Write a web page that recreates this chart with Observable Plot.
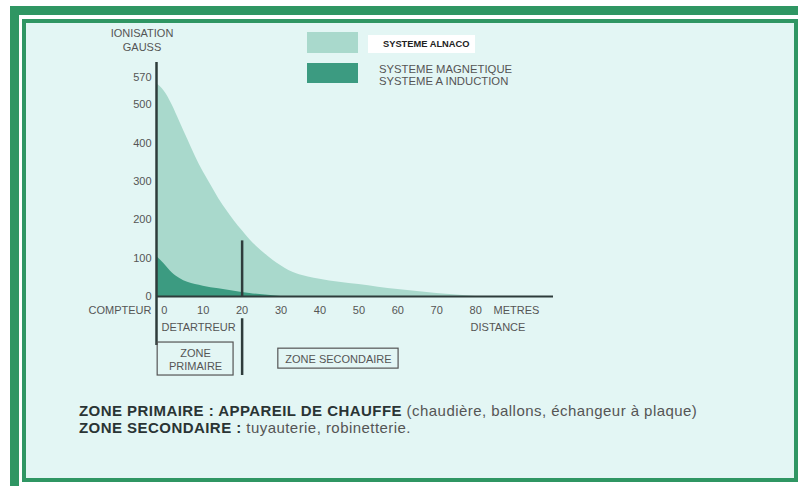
<!DOCTYPE html>
<html>
<head>
<meta charset="utf-8">
<script src="https://cdn.jsdelivr.net/npm/d3@7"></script>
<script src="https://cdn.jsdelivr.net/npm/@observablehq/plot@0.6"></script>
<style>
  html, body { margin: 0; padding: 0; background: #ffffff; }
  #wrap { position: relative; width: 798px; height: 486px; overflow: hidden; font-family: "Liberation Sans", Arial, sans-serif; }
  .band { position: absolute; background: #2f9663; }
  #inner { position: absolute; left: 22px; top: 19px; width: 776px; height: 463px; box-sizing: border-box; border: 4px solid #2f9663; background: #e3f6f4; }
  #chart { position: absolute; left: 0; top: 0; }
  .abs { position: absolute; white-space: nowrap; }
  .sw { position: absolute; }
</style>
</head>
<body>
<div id="wrap">
  <div class="band" style="left:10px;top:6px;width:788px;height:9px"></div>
  <div class="band" style="left:10px;top:6px;width:9px;height:480px"></div>
  <div id="inner"></div>
  <div id="chart"></div>
  <div class="abs" id="ytitle" style="left:100px;top:26px;width:84px;text-align:center;font-size:11px;line-height:14px;color:#555">IONISATION<br>GAUSS</div>
  <div id="legend"></div>
  <div class="abs" id="caption" style="left:79px;top:402px;font-size:15px;letter-spacing:0.45px;line-height:17.3px;color:#555"></div>
</div>
<script>
// ---- data ----
const distanceAlnaco = [-2, 0, 2, 4, 6, 8, 10, 12, 14, 16, 18, 20, 22, 24, 26, 28, 30, 32, 34, 37, 40, 45, 50, 55, 60, 65, 70, 75, 80];
const gaussAlnaco    = [555, 535, 500, 455, 410, 365, 325, 290, 255, 225, 197, 172, 148, 128, 110, 94, 80, 68, 59, 51, 45, 37, 31, 24, 18, 13, 8, 4, 0];
const distanceMagnetic = [-2, 0, 2, 4, 6, 8, 10, 14, 18, 22, 26, 30];
const gaussMagnetic    = [105, 85, 62, 47, 37, 31, 27, 20, 14, 8, 4, 0];
const xTicks = [0, 10, 20, 30, 40, 50, 60, 70, 80];
const yTicks = [0, 100, 200, 300, 400, 500, 570];
const seriesNames = ["SYSTEME ALNACO", "SYSTEME MAGNETIQUE\nSYSTEME A INDUCTION"];
const seriesColors = ["#a9d9cc", "#3c9b81"];
const zoneLimit = 20;
const zoneLabels = ["ZONE\nPRIMAIRE", "ZONE SECONDAIRE"];
const captionBold = ["ZONE PRIMAIRE : APPAREIL DE CHAUFFE", "ZONE SECONDAIRE :"];
const captionText = ["(chaudière, ballons, échangeur à plaque)", "tuyauterie, robinetterie."];

// ---- scale configuration ----
const xMin = -2, xMax = 100, yMin = 0, yMax = 610;
const axisBottom = -128;      // vertical axis continues below 0 (y units)
const axisColor = "#2e3c3b";
const textColor = "#555";

const alnaco = distanceAlnaco.map((d, i) => ({x: d, y: gaussAlnaco[i]}));
const magnetic = distanceMagnetic.map((d, i) => ({x: d, y: gaussMagnetic[i]}));
const zoneBoxes = [
  {label: zoneLabels[0], x1: -1.7, x2: 17.8, y1: -120, y2: -206},
  {label: zoneLabels[1], x1: 29.3, x2: 60.2, y1: -136, y2: -188}
];
const leftLabels = [{text: "COMPTEUR", x: xMin, y: -36}];
const rightLabels = [
  {text: "METRES", x: 84.6, y: -36},
  {text: "DETARTREUR", x: -0.7, y: -81},
  {text: "DISTANCE", x: 78.7, y: -81}
];

const plot = Plot.plot({
  width: 798,
  height: 486,
  marginLeft: 156,
  marginRight: 245,
  marginTop: 62,
  marginBottom: 190,
  style: {background: "transparent", overflow: "visible", fontFamily: "Liberation Sans, Arial, sans-serif"},
  x: {domain: [xMin, xMax], axis: null},
  y: {domain: [yMin, yMax], axis: null},
  marks: [
    Plot.areaY(alnaco, {x: "x", y: "y", fill: seriesColors[0], curve: "monotone-x"}),
    Plot.areaY(magnetic, {x: "x", y: "y", fill: seriesColors[1], curve: "monotone-x"}),
    Plot.ruleX([xMin], {y1: axisBottom, y2: yMax, stroke: axisColor, strokeWidth: 2.5}),
    Plot.ruleY([0], {x1: xMin, x2: xMax, stroke: axisColor, strokeWidth: 2}),
    Plot.ruleX([zoneLimit], {y1: -2, y2: 145, stroke: axisColor, strokeWidth: 2.5}),
    Plot.ruleX([zoneLimit], {y1: -58, y2: -206, stroke: axisColor, strokeWidth: 2.5}),
    Plot.text(xTicks, {x: d => d, y: 0, dy: 14, text: d => String(d), fill: textColor, fontSize: 11}),
    Plot.text(yTicks, {x: xMin, y: d => d, dx: -5, textAnchor: "end", text: d => String(d), fill: textColor, fontSize: 11}),
    Plot.text(leftLabels, {x: "x", y: "y", dx: -5, text: "text", textAnchor: "end", fill: textColor, fontSize: 11}),
    Plot.text(rightLabels, {x: "x", y: "y", text: "text", textAnchor: "start", fill: textColor, fontSize: 11}),
    Plot.rect(zoneBoxes, {x1: "x1", x2: "x2", y1: "y1", y2: "y2", fill: "none", stroke: "#555", strokeWidth: 1.2}),
    Plot.text(zoneBoxes, {x: d => (d.x1 + d.x2) / 2, y: d => (d.y1 + d.y2) / 2, text: "label", fill: textColor, fontSize: 11, lineHeight: 1.25})
  ]
});
document.getElementById("chart").appendChild(plot);

// legend
document.getElementById("legend").innerHTML =
  `<div class="sw" style="left:307px;top:32px;width:51px;height:21px;background:${seriesColors[0]}"></div>` +
  `<div class="sw" style="left:368px;top:35px;width:107px;height:18px;background:#ffffff"></div>` +
  `<div class="abs" style="left:383px;top:38px;font-size:9.3px;line-height:12px;font-weight:bold;color:#222">${seriesNames[0]}</div>` +
  `<div class="sw" style="left:307px;top:63px;width:51px;height:20px;background:${seriesColors[1]}"></div>` +
  `<div class="abs" style="left:379px;top:63px;font-size:11.3px;line-height:12px;color:${textColor}">${seriesNames[1].replace("\n", "<br>")}</div>`;

// caption
document.getElementById("caption").innerHTML = captionBold.map((b, i) =>
  `<span style="font-weight:bold;color:#2a3434">${b}</span> ${captionText[i]}`).join("<br>");
</script>
</body>
</html>
